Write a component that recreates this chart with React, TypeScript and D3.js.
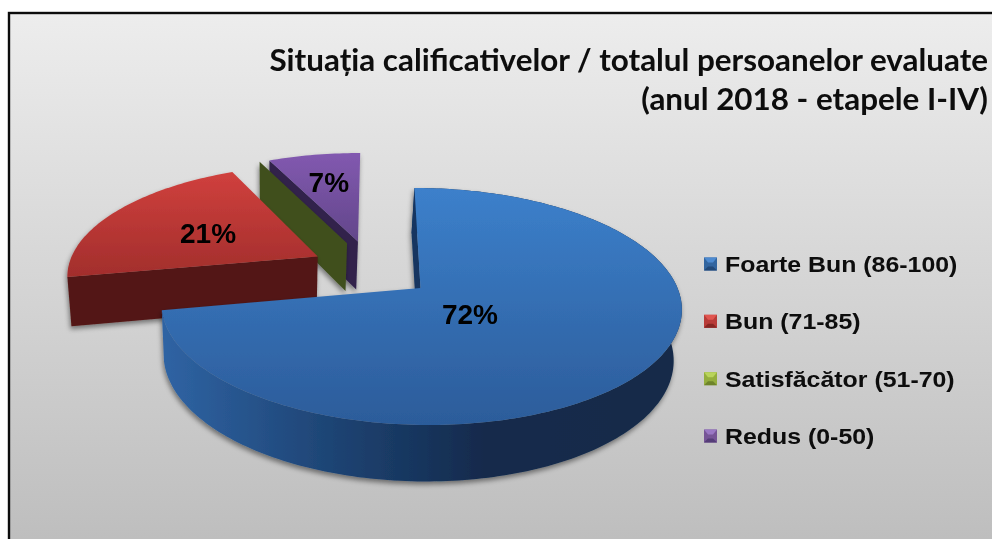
import React from "react";
import * as d3 from "d3";

const categories = ["Foarte Bun (86-100)", "Bun (71-85)", "Satisfăcător (51-70)", "Redus (0-50)"];
const shares = [72, 21, 0, 7];
const percentLabels = ["72%", "21%", "", "7%"];
const titleLines = ["Situația calificativelor / totalul persoanelor evaluate", "(anul 2018 - etapele I-IV)"];

const W = 992, H = 539;
// camera of the 3D pie
const cx = 420.5, cy = 288, R = 257, K = 115.6, P = 0.156, SHEAR = 7, DEPTH = 51, SHRINK = 0.98, LOW_DX = -3;
// how far each slice is pulled out, in pie radii
const explode: [number, number][] = [[0, 0], [-0.41, -0.285], [-0.293, -0.412], [-0.248, -0.428]];
const labelAt: ([number, number] | null)[] = [[0.18, 0.22], [-0.879, -0.514], null, [-0.387, -1.07]];

const project = (u: number, v: number, low = false): [number, number] => {
  const f = 1 / (1 - P * v);
  const s = low ? SHRINK : 1;
  const h = low ? DEPTH : 0;
  return [cx + (R * u + SHEAR * v) * f * s + (low ? LOW_DX : 0), cy + (K * v + h) * f * s];
};

const slices = d3.pie<number>().sort(null).startAngle(0).endAngle(2 * Math.PI)(shares);
const line = d3.line<[number, number]>();

const rim = (a0: number, a1: number, ex: [number, number], low = false) => {
  const n = Math.max(2, Math.ceil(Math.abs(a1 - a0) / 0.02));
  return d3.range(n + 1).map((i) => {
    const a = a0 + ((a1 - a0) * i) / n;
    return project(ex[0] + Math.sin(a), ex[1] - Math.cos(a), low);
  });
};
const facePath = (i: number) => {
  const s = slices[i], ex = explode[i];
  return line([project(ex[0], ex[1]), ...rim(s.startAngle, s.endAngle, ex)])! + "Z";
};
const outerWall = (i: number) => {
  const s = slices[i], ex = explode[i];
  return line([...rim(s.startAngle, s.endAngle, ex), ...rim(s.startAngle, s.endAngle, ex, true).reverse()])! + "Z";
};
const cutWall = (i: number, a: number) => {
  const ex = explode[i];
  const u = ex[0] + Math.sin(a), v = ex[1] - Math.cos(a);
  return line([project(ex[0], ex[1]), project(u, v), project(u, v, true), project(ex[0], ex[1], true)])! + "Z";
};

const faceGrad = [["#3c80cb", "#2c5c9a"], ["#d0403d", "#a22e2c"], ["#8fb03f", "#6f8a2e"], ["#8259b0", "#62468a"]];
const cutColor = ["#123560", "#521614", "#3f4f1c", "#30224c"];
const swatch = [
  ["#4d8ad0", "#33659f", "#234a78"],
  ["#e05450", "#b83a37", "#862523"],
  ["#b9d45c", "#94ae3e", "#6e8429"],
  ["#9a78c4", "#765596", "#553c78"],
];

const legendY = d3.scalePoint<string>().domain(categories).range([264, 436]);

export default function App() {
  return (
    <svg width={W} height={H} style={{ position: "absolute", left: 0, top: 0, background: "#fff" }}>
      <defs>
        <linearGradient id="bg" gradientUnits="userSpaceOnUse" x1="0" y1="13" x2="0" y2="539">
          <stop offset="0" stopColor="#ededed" />
          <stop offset="1" stopColor="#bebebe" />
        </linearGradient>
        {faceGrad.map((c, i) => (
          <linearGradient key={i} id={`face${i}`} x1="0" y1="0" x2="0" y2="1">
            <stop offset="0" stopColor={c[0]} />
            <stop offset="1" stopColor={c[1]} />
          </linearGradient>
        ))}
        <linearGradient id="blueWall" gradientUnits="userSpaceOnUse" x1="165" y1="0" x2="680" y2="0">
          <stop offset="0" stopColor="#2f63a3" />
          <stop offset="0.3" stopColor="#1f4677" />
          <stop offset="0.62" stopColor="#122a4c" />
          <stop offset="1" stopColor="#142b49" />
        </linearGradient>
        <filter id="soft" x="-5%" y="-5%" width="110%" height="110%">
          <feGaussianBlur stdDeviation="0.4" />
        </filter>
        <filter id="shadow" x="-10%" y="-10%" width="120%" height="120%">
          <feDropShadow dx="-1" dy="3" stdDeviation="2.5" floodColor="#000" floodOpacity="0.45" />
        </filter>
      </defs>

      <rect x={9} y={13} width={1000} height={1000} fill="url(#bg)" stroke="#0c0c0c" strokeWidth={2.4} />

      <g filter="url(#soft)" fontFamily="Lato" fontWeight={700} fontSize={31.4} fill="#0a0a0a" textAnchor="end">
        <text x={988} y={71}>{titleLines[0]}</text>
        <text x={988} y={110}>{titleLines[1]}</text>
      </g>

      {/* back slices first, so nearer ones cover them */}
      <g filter="url(#shadow)">
        <path d={cutWall(3, slices[3].startAngle)} fill={cutColor[3]} />
        <path d={facePath(3)} fill="url(#face3)" />
      </g>
      <g filter="url(#shadow)">
        <path d={cutWall(2, slices[2].startAngle)} fill={cutColor[2]} />
      </g>
      <g filter="url(#shadow)">
        <path d={cutWall(1, slices[1].startAngle)} fill={cutColor[1]} />
        <path d={facePath(1)} fill="url(#face1)" />
      </g>
      <g filter="url(#shadow)">
        <path d={outerWall(0)} fill="url(#blueWall)" />
        <path d={cutWall(0, slices[0].startAngle)} fill={cutColor[0]} />
        <path d={facePath(0)} fill="url(#face0)" />
      </g>

      <g filter="url(#soft)" fontFamily="Liberation Sans" fontWeight={700} fontSize={28} fill="#000" textAnchor="middle">
        {labelAt.map((p, i) => {
          if (!p) return null;
          const [x, y] = project(p[0], p[1]);
          return <text key={i} x={x} y={y + 10}>{percentLabels[i]}</text>;
        })}
      </g>

      <g filter="url(#soft)">
        {categories.map((c, i) => {
          const y = legendY(c)!;
          return (
            <g key={c}>
              <rect x={704} y={y - 6.5} width={13} height={13} fill={swatch[i][1]} />
              <path d={`M704 ${y - 6.5}h13l-4 5h-5z`} fill={swatch[i][0]} />
              <path d={`M704 ${y + 6.5}h13l-4 -4h-5z`} fill={swatch[i][2]} />
              <text
                transform={`translate(725 ${y + 8}) scale(1.132 1)`}
                fontFamily="Liberation Sans"
                fontWeight={700}
                fontSize={22}
                fill="#0a0a0a"
              >
                {c}
              </text>
            </g>
          );
        })}
      </g>
    </svg>
  );
}
